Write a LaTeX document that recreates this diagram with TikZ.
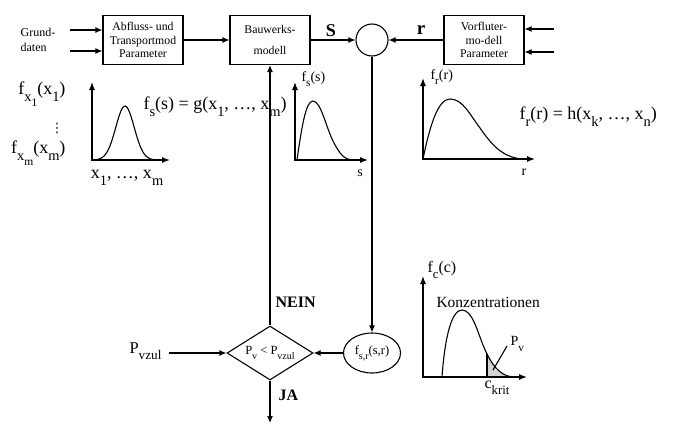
\documentclass[tikz,border=0pt]{standalone}
\usepackage{fontspec}
\setmainfont{Liberation Serif}
\newfontfamily\dejavu{DejaVu Sans}
\usetikzlibrary{arrows.meta,shapes.geometric}
\newcommand\unten[1]{\raisebox{-0.38em}{\scalebox{0.8}{#1}}}

\begin{document}
\begin{tikzpicture}[x=1pt,y=-1pt,line width=1.1pt,
  block/.style={draw,rectangle,minimum width=80pt,minimum height=49pt,inner sep=1pt,align=center,font=\fontsize{11.8}{13.5}\selectfont},
  pfeil/.style={-{Latex[length=7pt,width=6pt]}},
  achse/.style={-{Latex[length=8pt,width=6pt]},line width=1.2pt},
  formel/.style={inner sep=0pt,font=\fontsize{18}{20}\selectfont},
  klein/.style={inner sep=0pt,font=\fontsize{14}{16}\selectfont},
  fett/.style={inner sep=0pt,font=\fontsize{16}{18}\selectfont\bfseries}]
\useasboundingbox (0,0) rectangle (674,426);

% obere Reihe
\node[inner sep=0pt,align=left,font=\fontsize{12}{15}\selectfont] (grund) at (38,40) {Grund-\\daten};
\coordinate (ein1) at (70,30);
\coordinate (ein2) at (70,51);
\node[block] (abfluss) at (143,40) {Abfluss- und\\Transportmod\\Parameter};
\node[block] (bauwerk) at (270,40) {Bauwerks-\\[7pt]modell};
\node[draw,circle,minimum size=32pt,inner sep=0pt] (summe) at (372,40) {};
\node[block] (vorfluter) at (484,40) {Vorfluter-\\mo-dell\\Parameter};
\coordinate (ein3) at (554,29);
\coordinate (ein4) at (554,52);
\draw[pfeil] (ein1) -- (abfluss.west |- ein1);
\draw[pfeil] (ein2) -- (abfluss.west |- ein2);
\draw[pfeil] (abfluss) -- (bauwerk);
\draw[pfeil] (bauwerk) -- (summe);
\draw[pfeil] (vorfluter) -- (summe);
\draw[pfeil] (ein3) -- (vorfluter.east |- ein3);
\draw[pfeil] (ein4) -- (vorfluter.east |- ein4);
\node[fett,font=\fontsize{18}{20}\selectfont\bfseries] (s) at (331,31) {S};
\node[fett,font=\fontsize{19}{20}\selectfont\bfseries] (r) at (421,30) {r};

% Entscheidung
\node[draw,diamond,minimum width=86pt,minimum height=54pt,inner sep=0pt] (test) at (270,353) {};
\node[inner sep=0pt,font=\fontsize{12.5}{15}\selectfont] (testtext) at (test.center) {P\unten{v} < P\unten{vzul}};
\node[draw,ellipse,minimum width=57pt,minimum height=40pt,inner sep=0pt] (fsr) at (372,353) {};
\node[inner sep=0pt,font=\fontsize{12.5}{15}\selectfont] (fsrtext) at (fsr.center) {f\unten{s,r}(s,r)};
\node[formel,font=\fontsize{16.5}{18}\selectfont,anchor=east] (pvzul) at (162,351) {P\unten{vzul}};
\coordinate (ja) at (270,423);
\draw[pfeil] (test) -- (bauwerk);
\draw[pfeil] (summe) -- (fsr);
\draw[pfeil] (fsr) -- (test);
\draw[pfeil,shorten <=7pt] (pvzul.east |- test) -- (test);
\draw[pfeil] (test) -- (ja);
\node[fett,anchor=west] (nein) at (275,302) {NEIN};
\node[fett,anchor=west] (jatext) at (278,395) {JA};

% Verteilungen x_1 ... x_m
\draw[achse] (92,161) -- (92,82);
\draw[achse] (92,160) -- (170,160);
\draw plot[domain=97:155,samples=50,smooth] (\x,{160-54*exp(-((\x-125)/13)^2)});
\node[formel,anchor=east] (fx1) at (66,94) {f\unten{x\unten{1}}(x\unten{1})};
\node[inner sep=0pt,font=\dejavu\fontsize{13}{14}\selectfont] (punkte) at (57,128) {⋮};
\node[formel,anchor=east] (fxm) at (66,153) {f\unten{x\unten{m}}(x\unten{m})};
\node[formel] (xachse) at (127,178) {x\unten{1}, …, x\unten{m}};
\node[formel,anchor=west] (gfkt) at (143,107) {f\unten{s}(s) = g(x\unten{1}, …, x\unten{m})};

% Verteilung s
\draw[achse] (295,161) -- (295,82);
\draw[achse] (295,160) -- (368,160);
\draw (297,160) .. controls (302,125) and (306,101) .. (313,101) .. controls (321,101) and (326,128) .. (334,143) .. controls (340,154) and (344,160) .. (354,160);
\node[klein,anchor=west] (fs) at (301,79) {f\unten{s}(s)};
\node[klein] (sachse) at (360,173) {s};

% Verteilung r
\draw[achse] (423,160) -- (423,78);
\draw[achse] (423,159) -- (535,159);
\draw (423,159) .. controls (430,125) and (438,99) .. (450,99) .. controls (463,99) and (470,115) .. (480,128) .. controls (492,145) and (502,157) .. (522,159);
\node[klein,anchor=west] (fr) at (430,77) {f\unten{r}(r)};
\node[klein] (rachse) at (524,172) {r};
\node[formel,anchor=west] (hfkt) at (519,117) {f\unten{r}(r) = h(x\unten{k}, …, x\unten{n})};

% Verteilung c
\begin{scope}
\clip (442,377) .. controls (445,335) and (452,310) .. (462,310) .. controls (472,310) and (477,330) .. (483,345) .. controls (490,362) and (498,375) .. (512,377) -- cycle;
\fill[gray!35] (487,290) rectangle (530,377);
\draw (487,290) -- (487,377);
\end{scope}
\draw[achse] (423,378) -- (423,276);
\draw[achse] (423,377) -- (527,377);
\draw (442,377) .. controls (445,335) and (452,310) .. (462,310) .. controls (472,310) and (477,330) .. (483,345) .. controls (490,362) and (498,375) .. (512,377);
\draw (507,346) -- (493,370);
\node[formel,font=\fontsize{16}{18}\selectfont,anchor=west] (fc) at (427,270) {f\unten{c}(c)};
\node[formel,font=\fontsize{15.5}{17}\selectfont,anchor=west] (konz) at (436,302) {Konzentrationen};
\node[klein,anchor=west] (pv) at (510,344) {P\unten{v}};
\node[formel,font=\fontsize{16}{18}\selectfont,anchor=west] (ckrit) at (484,388) {c\unten{krit}};
\end{tikzpicture}
\end{document}
